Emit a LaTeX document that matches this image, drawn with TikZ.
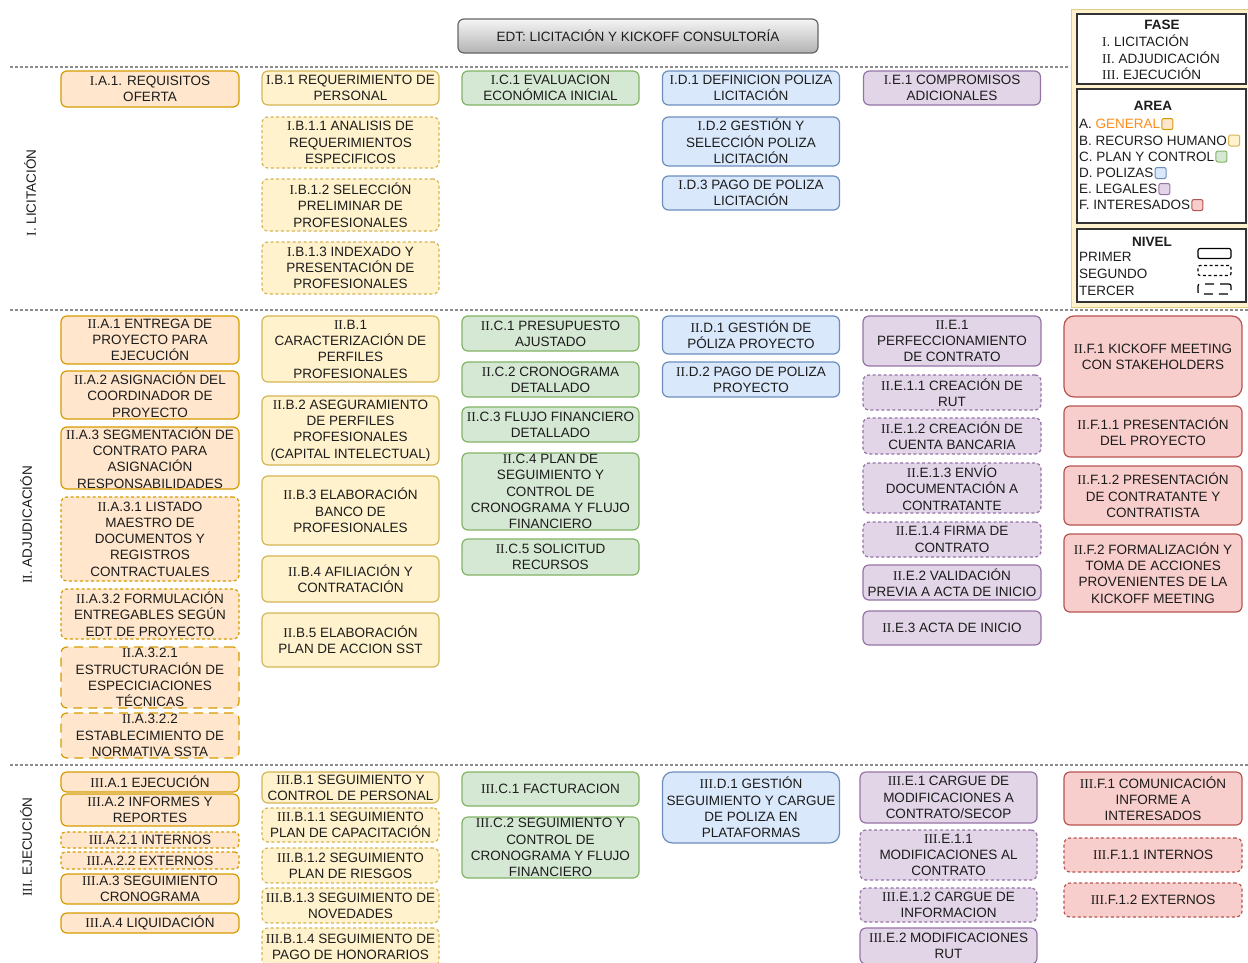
\documentclass[tikz,border=0pt]{standalone}
\usepackage{fontspec}
\setmainfont{Liberation Sans}
\newfontfamily\romfont{Liberation Serif}
\usepackage{xcolor}
\usepackage{tikz}
\usetikzlibrary{positioning}

\definecolor{genFill}{HTML}{FFE6CC}\definecolor{genLine}{HTML}{D79B00}
\definecolor{rhFill}{HTML}{FFF2CC}\definecolor{rhLine}{HTML}{D6B656}
\definecolor{pcFill}{HTML}{D5E8D4}\definecolor{pcLine}{HTML}{82B366}
\definecolor{polFill}{HTML}{DAE8FC}\definecolor{polLine}{HTML}{6C8EBF}
\definecolor{legFill}{HTML}{E1D5E7}\definecolor{legLine}{HTML}{9673A6}
\definecolor{intFill}{HTML}{F8CECC}\definecolor{intLine}{HTML}{B85450}
\definecolor{sepGray}{HTML}{8C8C8C}
\definecolor{genText}{HTML}{FF8C1A}
\definecolor{inkText}{HTML}{1C1C1C}

% roman numerals come out in a serif face
\newcommand{\rn}[1]{{\romfont #1}}

\tikzset{
  wbs/.style={draw, rounded corners=6pt, line width=1.2pt, inner sep=0pt,
    minimum width=177pt, align=center, text=inkText,
    font=\fontsize{13.5}{16.3}\selectfont},
  areaA/.style={fill=genFill, draw=genLine},
  areaB/.style={fill=rhFill, draw=rhLine},
  areaC/.style={fill=pcFill, draw=pcLine},
  areaD/.style={fill=polFill, draw=polLine},
  areaE/.style={fill=legFill, draw=legLine},
  areaF/.style={fill=intFill, draw=intLine},
  lvltwo/.style={dash pattern=on 3pt off 2.5pt},
  lvlthree/.style={dash pattern=on 9pt off 6pt},
  phase/.style={rotate=90, text=inkText, font=\fontsize{13.5}{16}\selectfont},
  sep/.style={sepGray, line width=1.6pt, dash pattern=on 3pt off 2pt},
  legtxt/.style={inner sep=0pt, anchor=west, text=inkText, font=\fontsize{13.5}{16}\selectfont},
  legsq/.style={draw, rounded corners=2pt, line width=1pt, minimum size=11pt, inner sep=0pt},
  legbox/.style={draw=black!80, line width=1.6pt, fill=white},
}

\begin{document}
\begin{tikzpicture}[x=1pt, y=-1pt]
    \useasboundingbox[fill=white] (0,0) rectangle (1248,962);

    % Title
    \node [draw=black!60, line width=1.2pt, rounded corners=6pt, top color=black!4, bottom color=black!30,
           minimum width=360pt, minimum height=34pt, text=inkText, font=\fontsize{13.5}{16}\selectfont] (edt) at (638,36)
           {EDT: LICITACIÓN Y KICKOFF CONSULTORÍA};

    % Separators
    \draw [sep] (10,67) -- (1070,67);
    \draw [sep] (10,310) -- (1248,310);
    \draw [sep] (10,765) -- (1248,765);

    % Phase labels
    \node [phase] (fI) at (30,193) {\rn{I}. LICITACIÓN};
    \node [phase] (fII) at (26,525) {\rn{II}. ADJUDICACIÓN};
    \node [phase] (fIII) at (26,847) {\rn{III}. EJECUCIÓN};

    % I. Licitacion
    \node [wbs, areaA, minimum width=178pt, minimum height=36pt] (IA1) at (150,89) {\rn{I}.A.1. REQUISITOS\\OFERTA};
    \node [wbs, areaB, minimum height=34pt] (IB1) at (350.5,88) {\rn{I}.B.1 REQUERIMIENTO DE\\PERSONAL};
    \node [wbs, areaB, lvltwo, minimum height=51pt] (IB11) at (350.5,142.5) {\rn{I}.B.1.1 ANALISIS DE\\REQUERIMIENTOS\\ESPECIFICOS};
    \node [wbs, areaB, lvltwo, minimum height=52pt] (IB12) at (350.5,205) {\rn{I}.B.1.2 SELECCIÓN\\PRELIMINAR DE\\PROFESIONALES};
    \node [wbs, areaB, lvltwo, minimum height=52pt] (IB13) at (350.5,268) {\rn{I}.B.1.3 INDEXADO Y\\PRESENTACIÓN DE\\PROFESIONALES};
    \node [wbs, areaC, minimum height=34pt] (IC1) at (550.5,88) {\rn{I}.C.1 EVALUACION\\ECONÓMICA INICIAL};
    \node [wbs, areaD, minimum height=34pt] (ID1) at (751,88) {\rn{I}.D.1 DEFINICION POLIZA\\LICITACIÓN};
    \node [wbs, areaD, minimum height=49pt] (ID2) at (751,141.5) {\rn{I}.D.2 GESTIÓN Y\\SELECCIÓN POLIZA\\LICITACIÓN};
    \node [wbs, areaD, minimum height=34pt] (ID3) at (751,193) {\rn{I}.D.3 PAGO DE POLIZA\\LICITACIÓN};
    \node [wbs, areaE, minimum height=34pt] (IE1) at (952,88) {\rn{I}.E.1 COMPROMISOS\\ADICIONALES};

    % II. Adjudicacion
    \node [wbs, areaA, minimum width=178pt, minimum height=48pt] (IIA1) at (150,340) {\rn{II}.A.1 ENTREGA DE\\PROYECTO PARA\\EJECUCIÓN};
    \node [wbs, areaA, minimum width=178pt, minimum height=48pt] (IIA2) at (150,395) {\rn{II}.A.2 ASIGNACIÓN DEL\\COORDINADOR DE\\PROYECTO};
    \node [wbs, areaA, minimum width=178pt, minimum height=62pt] (IIA3) at (150,458) {\rn{II}.A.3 SEGMENTACIÓN DE\\CONTRATO PARA\\ASIGNACIÓN\\RESPONSABILIDADES};
    \node [wbs, areaA, lvltwo, minimum width=178pt, minimum height=84pt] (IIA31) at (150,539) {\rn{II}.A.3.1 LISTADO\\MAESTRO DE\\DOCUMENTOS Y\\REGISTROS\\CONTRACTUALES};
    \node [wbs, areaA, lvltwo, minimum width=178pt, minimum height=50pt] (IIA32) at (150,614) {\rn{II}.A.3.2 FORMULACIÓN\\ENTREGABLES SEGÚN\\EDT DE PROYECTO};
    \node [wbs, areaA, lvlthree, minimum width=178pt, minimum height=61pt] (IIA321) at (150,677.5) {\rn{II}.A.3.2.1\\ESTRUCTURACIÓN DE\\ESPECICIACIONES\\TÉCNICAS};
    \node [wbs, areaA, lvlthree, minimum width=178pt, minimum height=45pt] (IIA322) at (150,735.5) {\rn{II}.A.3.2.2\\ESTABLECIMIENTO DE\\NORMATIVA SSTA};
    \node [wbs, areaB, minimum height=66pt] (IIB1) at (350.5,349) {\rn{II}.B.1\\CARACTERIZACIÓN DE\\PERFILES\\PROFESIONALES};
    \node [wbs, areaB, minimum height=69pt] (IIB2) at (350.5,430.5) {\rn{II}.B.2 ASEGURAMIENTO\\DE PERFILES\\PROFESIONALES\\(CAPITAL INTELECTUAL)};
    \node [wbs, areaB, minimum height=69pt] (IIB3) at (350.5,510.5) {\rn{II}.B.3 ELABORACIÓN\\BANCO DE\\PROFESIONALES};
    \node [wbs, areaB, minimum height=46pt] (IIB4) at (350.5,579) {\rn{II}.B.4 AFILIACIÓN Y\\CONTRATACIÓN};
    \node [wbs, areaB, minimum height=54pt] (IIB5) at (350.5,640) {\rn{II}.B.5 ELABORACIÓN\\PLAN DE ACCION SST};
    \node [wbs, areaC, minimum height=35pt] (IIC1) at (550.5,333.5) {\rn{II}.C.1 PRESUPUESTO\\AJUSTADO};
    \node [wbs, areaC, minimum height=35pt] (IIC2) at (550.5,379.5) {\rn{II}.C.2 CRONOGRAMA\\DETALLADO};
    \node [wbs, areaC, minimum height=35pt] (IIC3) at (550.5,424.5) {\rn{II}.C.3 FLUJO FINANCIERO\\DETALLADO};
    \node [wbs, areaC, minimum height=77pt] (IIC4) at (550.5,491.5) {\rn{II}.C.4 PLAN DE\\SEGUIMIENTO Y\\CONTROL DE\\CRONOGRAMA Y FLUJO\\FINANCIERO};
    \node [wbs, areaC, minimum height=36pt] (IIC5) at (550.5,557) {\rn{II}.C.5 SOLICITUD\\RECURSOS};
    \node [wbs, areaD, minimum height=38pt] (IID1) at (751,335) {\rn{II}.D.1 GESTIÓN DE\\PÓLIZA PROYECTO};
    \node [wbs, areaD, minimum height=35pt] (IID2) at (751,379.5) {\rn{II}.D.2 PAGO DE POLIZA\\PROYECTO};
    \node [wbs, areaE, minimum width=178pt, minimum height=50pt] (IIE1) at (952,341) {\rn{II}.E.1\\PERFECCIONAMIENTO\\DE CONTRATO};
    \node [wbs, areaE, lvltwo, minimum width=178pt, minimum height=35pt] (IIE11) at (952,392.5) {\rn{II}.E.1.1 CREACIÓN DE\\RUT};
    \node [wbs, areaE, lvltwo, minimum width=178pt, minimum height=36pt] (IIE12) at (952,436) {\rn{II}.E.1.2 CREACIÓN DE\\CUENTA BANCARIA};
    \node [wbs, areaE, lvltwo, minimum width=178pt, minimum height=50pt] (IIE13) at (952,488) {\rn{II}.E.1.3 ENVÍO\\DOCUMENTACIÓN A\\CONTRATANTE};
    \node [wbs, areaE, lvltwo, minimum width=178pt, minimum height=35pt] (IIE14) at (952,539.5) {\rn{II}.E.1.4 FIRMA DE\\CONTRATO};
    \node [wbs, areaE, minimum width=178pt, minimum height=35pt] (IIE2) at (952,582.5) {\rn{II}.E.2 VALIDACIÓN\\PREVIA A ACTA DE INICIO};
    \node [wbs, areaE, minimum width=178pt, minimum height=34pt] (IIE3) at (952,628) {\rn{II}.E.3 ACTA DE INICIO};
    \node [wbs, areaF, minimum width=178pt, minimum height=81pt, rounded corners=10pt] (IIF1) at (1153,356.5) {\rn{II}.F.1 KICKOFF MEETING\\CON STAKEHOLDERS};
    \node [wbs, areaF, minimum width=178pt, minimum height=51pt] (IIF11) at (1153,431.5) {\rn{II}.F.1.1 PRESENTACIÓN\\DEL PROYECTO};
    \node [wbs, areaF, minimum width=178pt, minimum height=59pt] (IIF12) at (1153,495.5) {\rn{II}.F.1.2 PRESENTACIÓN\\DE CONTRATANTE Y\\CONTRATISTA};
    \node [wbs, areaF, minimum width=178pt, minimum height=78pt] (IIF2) at (1153,573) {\rn{II}.F.2 FORMALIZACIÓN Y\\TOMA DE ACCIONES\\PROVENIENTES DE LA\\KICKOFF MEETING};

    % III. Ejecucion
    \node [wbs, areaA, minimum width=178pt, minimum height=20pt] (IIIA1) at (150,782) {\rn{III}.A.1 EJECUCIÓN};
    \node [wbs, areaA, minimum width=178pt, minimum height=32pt] (IIIA2) at (150,810) {\rn{III}.A.2 INFORMES Y\\REPORTES};
    \node [wbs, areaA, lvltwo, minimum width=178pt, minimum height=16pt, rounded corners=4pt] (IIIA21) at (150,840) {\rn{III}.A.2.1 INTERNOS};
    \node [wbs, areaA, lvltwo, minimum width=178pt, minimum height=17pt, rounded corners=4pt] (IIIA22) at (150,860.5) {\rn{III}.A.2.2 EXTERNOS};
    \node [wbs, areaA, minimum width=178pt, minimum height=30pt] (IIIA3) at (150,889) {\rn{III}.A.3 SEGUIMIENTO\\CRONOGRAMA};
    \node [wbs, areaA, minimum width=178pt, minimum height=20pt] (IIIA4) at (150,923) {\rn{III}.A.4 LIQUIDACIÓN};
    \node [wbs, areaB, minimum height=31pt] (IIIB1) at (350.5,787.5) {\rn{III}.B.1 SEGUIMIENTO Y\\CONTROL DE PERSONAL};
    \node [wbs, areaB, lvltwo, minimum height=34pt] (IIIB11) at (350.5,825) {\rn{III}.B.1.1 SEGUIMIENTO\\PLAN DE CAPACITACIÓN};
    \node [wbs, areaB, lvltwo, minimum height=35pt] (IIIB12) at (350.5,865.5) {\rn{III}.B.1.2 SEGUIMIENTO\\PLAN DE RIESGOS};
    \node [wbs, areaB, lvltwo, minimum height=35pt] (IIIB13) at (350.5,905.5) {\rn{III}.B.1.3 SEGUIMIENTO DE\\NOVEDADES};
    \node [wbs, areaB, lvltwo, minimum height=38pt] (IIIB14) at (350.5,947) {\rn{III}.B.1.4 SEGUIMIENTO DE\\PAGO DE HONORARIOS};
    \node [wbs, areaC, minimum height=34pt] (IIIC1) at (550.5,789) {\rn{III}.C.1 FACTURACION};
    \node [wbs, areaC, minimum height=61pt] (IIIC2) at (550.5,847.5) {\rn{III}.C.2 SEGUIMIENTO Y\\CONTROL DE\\CRONOGRAMA Y FLUJO\\FINANCIERO};
    \node [wbs, areaD, minimum height=71pt, rounded corners=10pt] (IIID1) at (751,807.5) {\rn{III}.D.1 GESTIÓN\\SEGUIMIENTO Y CARGUE\\DE POLIZA EN\\PLATAFORMAS};
    \node [wbs, areaE, minimum height=51pt] (IIIE1) at (948.5,797.5) {\rn{III}.E.1 CARGUE DE\\MODIFICACIONES A\\CONTRATO/SECOP};
    \node [wbs, areaE, lvltwo, minimum height=50pt] (IIIE11) at (948.5,855) {\rn{III}.E.1.1\\MODIFICACIONES AL\\CONTRATO};
    \node [wbs, areaE, lvltwo, minimum height=34pt] (IIIE12) at (948.5,905) {\rn{III}.E.1.2 CARGUE DE\\INFORMACION};
    \node [wbs, areaE, minimum height=36pt] (IIIE2) at (948.5,946) {\rn{III}.E.2 MODIFICACIONES\\RUT};
    \node [wbs, areaF, minimum width=178pt, minimum height=53pt] (IIIF1) at (1153,798.5) {\rn{III}.F.1 COMUNICACIÓN\\INFORME A\\INTERESADOS};
    \node [wbs, areaF, lvltwo, minimum width=178pt, minimum height=34pt] (IIIF11) at (1153,855) {\rn{III}.F.1.1 INTERNOS};
    \node [wbs, areaF, lvltwo, minimum width=178pt, minimum height=34pt] (IIIF12) at (1153,900) {\rn{III}.F.1.2 EXTERNOS};

    % Legend
    \fill [rhFill] (1071,9) rectangle (1252,307);
    \draw [rhLine!70, line width=1pt] (1071,9) rectangle (1252,307);
    \draw [legbox] (1077,14) rectangle (1246,84);
    \draw [legbox] (1077,89) rectangle (1246,223);
    \draw [legbox] (1077,229) rectangle (1246,302);

    \node [font=\fontsize{13.5}{16}\bfseries, text=inkText, inner sep=0pt] (hFase) at (1162,25) {FASE};
    \node [legtxt] (fase1) at (1102,41) {\rn{I}. LICITACIÓN};
    \node [legtxt] (fase2) at (1102,58) {\rn{II}. ADJUDICACIÓN};
    \node [legtxt] (fase3) at (1102,74) {\rn{III}. EJECUCIÓN};

    \node [font=\fontsize{13.5}{16}\bfseries, text=inkText, inner sep=0pt] (hArea) at (1153,106) {AREA};
    \node [legtxt] (tA) at (1079,124) {A. \textcolor{genText}{GENERAL}};
    \node [legtxt] (tB) at (1079,140.5) {B. RECURSO HUMANO};
    \node [legtxt] (tC) at (1079,156.5) {C. PLAN Y CONTROL};
    \node [legtxt] (tD) at (1079,173) {D. POLIZAS};
    \node [legtxt] (tE) at (1079,189) {E. LEGALES};
    \node [legtxt] (tF) at (1079,205) {F. INTERESADOS};
    \node [legsq, areaA, right=1pt of tA] (sqA) {};
    \node [legsq, areaB, right=1pt of tB] (sqB) {};
    \node [legsq, areaC, right=1pt of tC] (sqC) {};
    \node [legsq, areaD, right=1pt of tD] (sqD) {};
    \node [legsq, areaE, right=1pt of tE] (sqE) {};
    \node [legsq, areaF, right=1pt of tF] (sqF) {};

    \node [font=\fontsize{13.5}{16}\bfseries, text=inkText, inner sep=0pt] (hNivel) at (1152,242) {NIVEL};
    \node [legtxt] (n1) at (1079,257) {PRIMER};
    \node [legtxt] (n2) at (1079,274) {SEGUNDO};
    \node [legtxt] (n3) at (1079,291) {TERCER};
    \node [draw, line width=1.2pt, rounded corners=2pt, minimum width=33pt, minimum height=10pt, inner sep=0pt] (s1) at (1214.5,253.5) {};
    \node [draw, line width=1.2pt, rounded corners=2pt, minimum width=33pt, minimum height=10pt, inner sep=0pt, lvltwo] (s2) at (1214.5,270.5) {};
    \node [draw, line width=1.2pt, rounded corners=2pt, minimum width=33pt, minimum height=10pt, inner sep=0pt, lvlthree] (s3) at (1214.5,289) {};
\end{tikzpicture}
\end{document}
